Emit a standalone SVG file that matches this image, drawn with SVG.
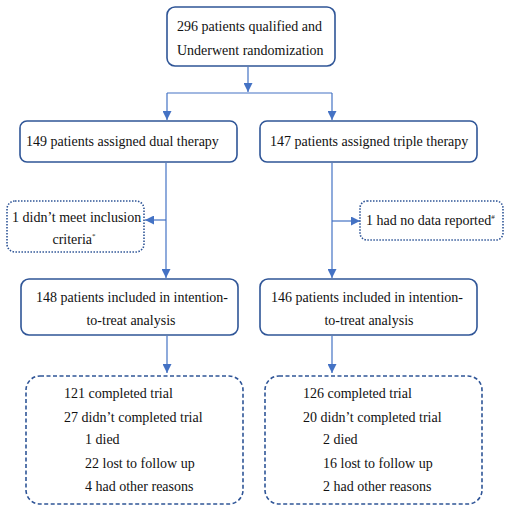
<svg xmlns="http://www.w3.org/2000/svg" width="510" height="512" viewBox="0 0 510 512">
<style>
.t{font-family:'Liberation Serif','Times New Roman',serif;font-size:14px;fill:#111;}
.sup{font-size:7px;}
.box{fill:#fff;stroke:#2F5597;stroke-width:1.6;}
.dot{fill:#fff;stroke:#2F5597;stroke-width:1.6;stroke-dasharray:1.5 1.5;}
.dash{fill:#fff;stroke:#2F5597;stroke-width:1.6;stroke-dasharray:4 2.5;}
.c{fill:none;stroke:#4472C4;stroke-width:1.2;}
</style>
<defs>
<marker id="ah" viewBox="0 0 10 10" refX="10" refY="5" markerWidth="9" markerHeight="9" markerUnits="userSpaceOnUse" orient="auto">
<path d="M0,0 L10,5 L0,10 z" fill="#4472C4"/>
</marker>
</defs>
<rect width="510" height="512" fill="#fff"/>
<g id="connectors">
<path class="c" d="M248,67 V92" marker-end="url(#ah)"/>
<path class="c" d="M167,93 H332"/>
<path class="c" d="M167,93 V120" marker-end="url(#ah)"/>
<path class="c" d="M332,93 V120" marker-end="url(#ah)"/>
<path class="c" d="M166,163 V278" marker-end="url(#ah)"/>
<path class="c" d="M166,220 H145" marker-end="url(#ah)"/>
<path class="c" d="M332,163 V278" marker-end="url(#ah)"/>
<path class="c" d="M332,221 H360" marker-end="url(#ah)"/>
<path class="c" d="M167,336 V373" marker-end="url(#ah)"/>
<path class="c" d="M332,336 V373" marker-end="url(#ah)"/>
</g>
<g id="n_top">
<rect class="box" x="167" y="7" width="168" height="59" rx="8"/>
<text class="t" x="177" y="31">296 patients qualified and</text>
<text class="t" x="177" y="55">Underwent randomization</text>
</g>
<g id="n_dual">
<rect class="box" x="20" y="121" width="217" height="41" rx="7"/>
<text class="t" x="26" y="146">149 patients assigned dual therapy</text>
</g>
<g id="n_triple">
<rect class="box" x="260" y="121" width="217" height="41" rx="7"/>
<text class="t" x="270" y="146">147 patients assigned triple therapy</text>
</g>
<g id="n_excl_left">
<rect class="dot" x="7" y="201" width="137" height="51" rx="8"/>
<text class="t" x="12" y="222">1 didn’t meet inclusion</text>
<text class="t" x="74" y="244" text-anchor="middle">criteria<tspan class="sup" dy="-6">*</tspan></text>
</g>
<g id="n_excl_right">
<rect class="dot" x="360" y="201" width="143" height="39" rx="7"/>
<text class="t" x="366" y="225">1 had no data reported<tspan class="sup" dy="-6">#</tspan></text>
</g>
<g id="n_itt_left">
<rect class="box" x="21" y="279" width="217" height="56" rx="8"/>
<text class="t" x="132" y="302" text-anchor="middle">148 patients included in intention-</text>
<text class="t" x="131" y="325" text-anchor="middle">to-treat analysis</text>
</g>
<g id="n_itt_right">
<rect class="box" x="260" y="279" width="217" height="56" rx="8"/>
<text class="t" x="367" y="302" text-anchor="middle">146 patients included in intention-</text>
<text class="t" x="369" y="325" text-anchor="middle">to-treat analysis</text>
</g>
<g id="n_out_left">
<rect class="dash" x="26" y="376" width="217" height="128" rx="14"/>
<text class="t" x="64" y="398">121 completed trial</text>
<text class="t" x="64" y="422">27 didn’t completed trial</text>
<text class="t" x="85" y="444">1 died</text>
<text class="t" x="85" y="468">22 lost to follow up</text>
<text class="t" x="85" y="491">4 had other reasons</text>
</g>
<g id="n_out_right">
<rect class="dash" x="265" y="376" width="217" height="128" rx="14"/>
<text class="t" x="303" y="398">126 completed trial</text>
<text class="t" x="303" y="422">20 didn’t completed trial</text>
<text class="t" x="323" y="444">2 died</text>
<text class="t" x="323" y="468">16 lost to follow up</text>
<text class="t" x="323" y="491">2 had other reasons</text>
</g>
</svg>
